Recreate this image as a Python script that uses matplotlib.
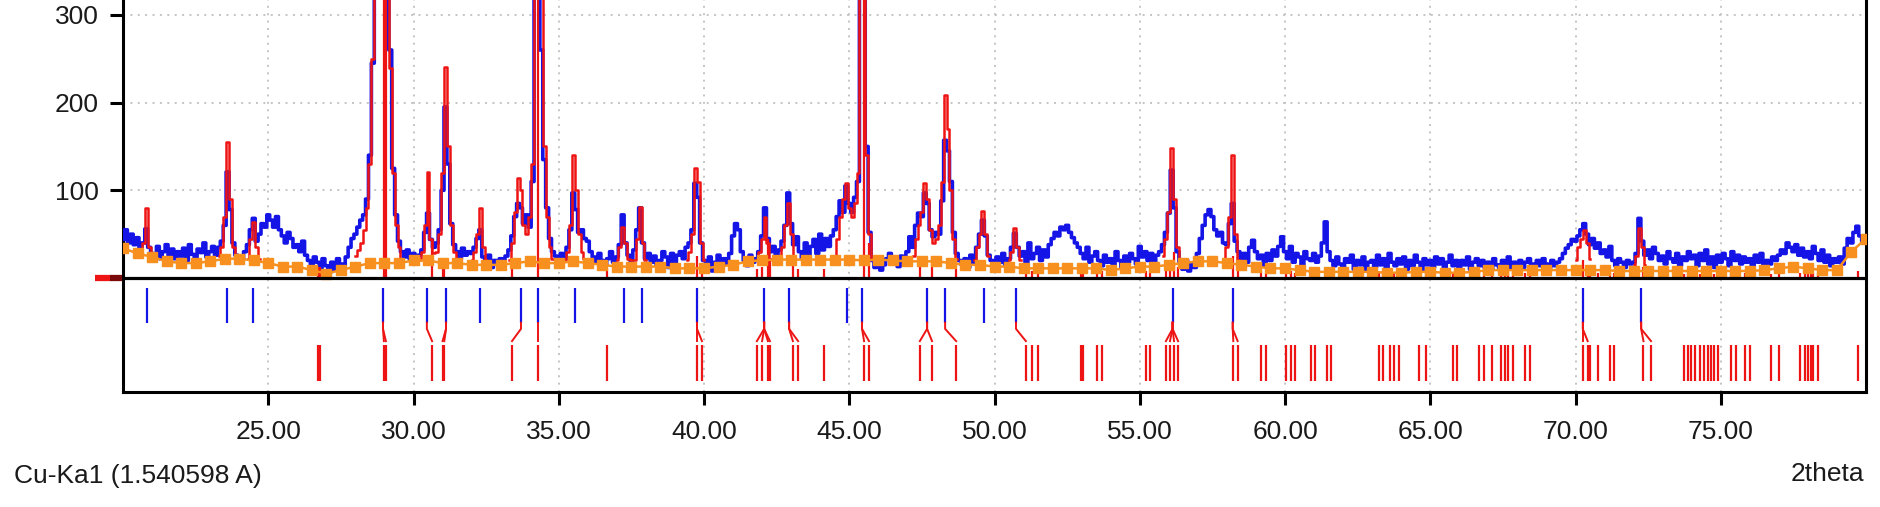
import numpy as np
import matplotlib.pyplot as plt
from matplotlib.transforms import blended_transform_factory

plt.rcParams['font.family'] = ['Liberation Sans', 'DejaVu Sans']

# measured scan, 2theta 20.0 -> 80.0 in 0.1 deg steps (counts)
scan_start = 20.0
scan_step = 0.1
obs = [
    44, 55, 40, 50, 38, 46, 33, 40, 56, 35,         # 20
    28, 24, 36, 22, 30, 38, 26, 33, 22, 30,         # 21
    25, 34, 20, 38, 27, 18, 33, 29, 40, 24,         # 22
    30, 36, 26, 35, 42, 60, 121, 78, 40, 26,        # 23
    24, 21, 30, 38, 55, 68, 42, 50, 62, 58,         # 24
    72, 66, 58, 70, 55, 48, 40, 52, 45, 35,         # 25
    38, 30, 42, 26, 20, 14, 24, 18, 10, 22,         # 26
    14, 6, 18, 10, 22, 16, 12, 24, 35, 45,          # 27
    50, 58, 66, 72, 90, 140, 245, 340, 340, 340,    # 28
    340, 340, 260, 125, 72, 42, 30, 24, 32, 22,     # 29
    28, 20, 26, 32, 52, 74, 44, 35, 40, 55,         # 30
    100, 195, 130, 62, 38, 30, 22, 34, 26, 30,      # 31
    28, 35, 45, 55, 24, 18, 26, 12, 20, 16,         # 32
    22, 15, 25, 32, 48, 70, 85, 80, 62, 72,         # 33
    58, 110, 320, 340, 260, 135, 80, 45, 30, 25,    # 34
    20, 28, 22, 35, 55, 97, 78, 52, 55, 45,         # 35
    42, 30, 24, 18, 28, 20, 15, 22, 30, 18,         # 36
    24, 38, 72, 40, 26, 20, 32, 55, 80, 40,         # 37
    22, 28, 18, 25, 14, 20, 30, 24, 12, 28,         # 38
    18, 26, 30, 22, 35, 40, 55, 108, 92, 40,        # 39
    20, 12, 24, 8, 18, 26, 14, 22, 16, 28,          # 40
    48, 62, 55, 30, 20, 14, 26, 18, 22, 30,         # 41
    48, 80, 45, 30, 36, 24, 32, 42, 60, 97,         # 42
    62, 38, 47, 30, 22, 40, 25, 36, 44, 28,         # 43
    50, 32, 45, 36, 48, 55, 70, 88, 75, 105,        # 44
    85, 75, 92, 110, 340, 330, 150, 52, 20, 12,     # 45
    18, 9, 15, 22, 28, 16, 20, 13, 25, 18,          # 46
    30, 47, 35, 60, 74, 70, 97, 85, 55, 47,         # 47
    52, 50, 88, 157, 145, 110, 52, 28, 20, 15,      # 48
    22, 12, 26, 18, 35, 50, 66, 48, 26, 20,         # 49
    15, 24, 18, 28, 14, 22, 35, 51, 35, 25,         # 50
    30, 18, 40, 22, 28, 35, 20, 32, 24, 38,         # 51
    45, 52, 48, 58, 55, 60, 52, 46, 40, 35,         # 52
    28, 22, 35, 18, 25, 30, 20, 14, 26, 18,         # 53
    22, 14, 30, 20, 12, 25, 18, 28, 22, 16,         # 54
    36, 24, 30, 20, 28, 18, 26, 30, 38, 52,         # 55
    74, 123, 80, 30, 18, 10, 20, 8, 16, 12,         # 56
    28, 45, 60, 72, 78, 70, 55, 48, 52, 40,         # 57
    38, 62, 85, 42, 30, 22, 28, 18, 35, 43,         # 58
    30, 22, 26, 14, 28, 20, 32, 25, 36, 47,         # 59
    30, 22, 36, 18, 28, 24, 15, 30, 22, 20,         # 60
    28, 18, 25, 40, 64, 30, 20, 14, 24, 16,         # 61
    12, 22, 18, 26, 10, 20, 15, 24, 8, 18,          # 62
    20, 12, 26, 15, 22, 10, 28, 18, 14, 22,         # 63
    16, 24, 10, 20, 14, 26, 18, 8, 22, 15,          # 64
    20, 12, 24, 16, 22, 10, 18, 26, 14, 20,         # 65
    12, 20, 15, 24, 10, 18, 22, 14, 20, 12,         # 66
    18, 10, 22, 15, 12, 20, 16, 24, 10, 18,         # 67
    14, 20, 12, 18, 22, 10, 16, 20, 14, 22,         # 68
    16, 12, 20, 14, 18, 22, 28, 34, 38, 44,         # 69
    42, 48, 55, 62, 50, 38, 45, 34, 40, 28,         # 70
    32, 24, 36, 20, 14, 22, 18, 12, 20, 16,         # 71
    18, 28, 68, 42, 26, 32, 22, 35, 28, 20,         # 72
    25, 16, 30, 22, 18, 28, 14, 24, 20, 30,         # 73
    22, 26, 14, 28, 20, 32, 16, 24, 12, 26,         # 74
    18, 28, 22, 14, 30, 20, 26, 16, 24, 18,         # 75
    22, 14, 26, 18, 28, 12, 20, 16, 24, 20,         # 76
    26, 32, 28, 40, 35, 30, 38, 26, 34, 24,         # 77
    30, 22, 36, 28, 20, 32, 18, 26, 14, 22,         # 78
    18, 24, 16, 34, 45, 40, 52, 59, 48, 42,         # 79
    40,                                             # 80
]

# background anchor points every 0.5 deg
bg_step = 0.5
bg = [
    34, 28, 24, 19, 17, 17, 19, 22, 22, 20,   # 20.0 - 24.5
    17, 13, 13, 9, 5, 9, 13, 17, 17, 17,      # 25.0 - 29.5
    20, 20, 17, 17, 15, 15, 15, 17, 19, 17,   # 30.0 - 34.5
    17, 19, 17, 15, 13, 13, 13, 13, 11, 11,   # 35.0 - 39.5
    11, 13, 15, 19, 20, 21, 21, 21, 21, 21,   # 40.0 - 44.5
    21, 20, 21, 20, 19, 19, 19, 17, 15, 15,   # 45.0 - 49.5
    13, 13, 11, 11, 11, 11, 11, 11, 9, 11,    # 50.0 - 54.5
    13, 13, 15, 17, 19, 19, 17, 15, 13, 11,   # 55.0 - 59.5
    11, 9, 7, 7, 7, 7, 7, 6, 6, 7,            # 60.0 - 64.5
    7, 6, 6, 7, 9, 9, 9, 9, 9, 9,             # 65.0 - 69.5
    9, 9, 9, 8, 8, 8, 8, 8, 8, 8,             # 70.0 - 74.5
    8, 8, 8, 9, 11, 13, 11, 9, 9, 30,         # 75.0 - 79.5
    45,                                       # 80.0
]

# calculated profile around the fitted peaks: (first angle, counts at 0.1 deg)
calc_segments = [
    (20.6, [30, 40, 80, 35, 25]),
    (23.3, [25, 35, 70, 155, 90, 35, 22]),
    (24.3, [22, 45, 64, 35, 22]),
    (28.0, [25, 32, 40, 55, 80, 130, 250, 340, 340, 340, 340, 340, 240, 120, 60, 35, 22]),
    (30.2, [20, 30, 60, 121, 45, 28, 30, 50, 120, 241, 150, 60, 30, 20]),
    (32.0, [20, 30, 50, 80, 35, 20]),
    (33.3, [20, 40, 75, 114, 100, 60, 50, 70, 130, 340, 340, 340, 150, 70, 35, 22]),
    (35.2, [20, 30, 60, 140, 100, 50, 30, 22]),
    (37.0, [20, 35, 58, 40, 22, 20, 20, 45, 81, 40, 20]),
    (39.4, [20, 30, 50, 125, 110, 40, 20]),
    (41.8, [20, 30, 45, 70, 40, 22, 20, 20, 20, 35, 60, 85, 50, 25]),
    (44.5, [25, 45, 70, 90, 108, 80, 70, 85, 120, 340, 340, 140, 50, 22]),
    (47.2, [25, 45, 60, 75, 108, 90, 55, 40, 45, 60, 110, 209, 170, 100, 45, 22]),
    (49.3, [20, 35, 50, 76, 50, 25]),
    (50.5, [20, 30, 57, 35, 20]),
    (55.8, [25, 45, 75, 148, 90, 35, 18]),
    (57.9, [22, 35, 70, 140, 50, 20]),
    (70.0, [20, 35, 45, 55, 40, 22]),
    (72.0, [15, 25, 57, 35, 15]),
]

# identified peak positions (blue ticks)
peaks = [20.83, 23.58, 24.48, 28.95, 30.46, 31.12, 32.29, 33.70, 34.29, 35.56,
         37.25, 37.87, 39.76, 42.07, 42.93, 44.92, 45.44, 47.68, 48.30, 49.64,
         50.74, 56.13, 58.20, 70.25, 72.26]

# reference pattern lines: (2theta, stick height in counts)
ref_lines = [
    (26.72, 12), (26.78, 12), (28.98, 340), (29.05, 340), (30.64, 45), (31.00, 15),
    (31.06, 15), (33.39, 20), (34.29, 340), (36.66, 10), (39.76, 25), (39.93, 15),
    (41.82, 10), (42.00, 12), (42.20, 45), (42.27, 20), (43.06, 25), (43.24, 10),
    (44.13, 10), (45.51, 340), (45.68, 40), (47.43, 20), (47.85, 25), (48.68, 10),
    (51.08, 12), (51.29, 8), (51.50, 10), (52.98, 8), (53.04, 8), (53.54, 10),
    (53.71, 8), (55.21, 8), (55.37, 6), (55.90, 10), (56.04, 15), (56.18, 30),
    (56.32, 12), (58.22, 25), (58.37, 10), (59.19, 8), (59.36, 6), (60.05, 10),
    (60.19, 8), (60.33, 6), (60.88, 8), (61.03, 10), (61.45, 6), (61.60, 8),
    (63.22, 6), (63.37, 6), (63.62, 6), (63.76, 6), (63.93, 6), (64.62, 8),
    (64.85, 8), (65.79, 6), (65.93, 6), (66.69, 7), (66.85, 7), (67.11, 7),
    (67.44, 7), (67.58, 7), (67.69, 7), (67.86, 7), (68.26, 6), (68.43, 6),
    (70.25, 20), (70.42, 12), (70.50, 8), (70.79, 6), (71.19, 6), (71.34, 6),
    (72.34, 12), (72.60, 8), (73.73, 5), (73.88, 5), (73.96, 5), (74.11, 5),
    (74.28, 5), (74.42, 5), (74.57, 5), (74.68, 5), (74.76, 5), (74.91, 5),
    (75.34, 6), (75.51, 6), (75.84, 6), (76.01, 6), (76.72, 5), (77.00, 5),
    (77.73, 6), (77.90, 6), (78.00, 6), (78.10, 6), (78.19, 6), (78.36, 6),
    (79.74, 8),
]

# peak -> matched reference lines
matches = [
    (28.95, [28.98, 29.05]), (30.46, [30.64]), (31.12, [31.00, 31.06]),
    (33.70, [33.39]), (34.29, [34.29]), (39.76, [39.76, 39.93]),
    (42.07, [41.82, 42.00, 42.20, 42.27]), (42.93, [43.06, 43.24]),
    (45.44, [45.51, 45.68]), (47.68, [47.43, 47.85]), (48.30, [48.68]),
    (50.74, [51.08]), (56.13, [55.90, 56.04, 56.18, 56.32]),
    (58.20, [58.22, 58.37]), (70.25, [70.25, 70.42]), (72.26, [72.34, 72.60]),
]

xticks = [25, 30, 35, 40, 45, 50, 55, 60, 65, 70, 75]
yticks = [100, 200, 300]

BLUE = '#1414e6'
RED = '#ee1414'
ORANGE = '#f7901e'
TXT = '#1a1a1a'

x_obs = scan_start + scan_step * np.arange(len(obs))
x_bg = scan_start + bg_step * np.arange(len(bg))
ref_pos = [r[0] for r in ref_lines]
ref_int = [r[1] for r in ref_lines]

fig = plt.figure(figsize=(18.8, 5.07), dpi=100)
ax = fig.add_axes([123 / 1880, 1 - 392 / 507, (1866 - 123) / 1880, 392 / 507])

# pattern area
ax.plot(x_obs, obs, color=BLUE, lw=2.6, drawstyle='steps-mid', zorder=3)
for x0, vals in calc_segments:
    xs = x0 + scan_step * np.arange(len(vals))
    ax.plot(xs, vals, color=RED, lw=1.8, drawstyle='steps-mid', zorder=4)
ax.vlines(ref_pos, 0, ref_int, color=RED, lw=1.6, zorder=4)
ax.plot(x_bg, bg, color=ORANGE, lw=1.8, marker='s', ms=7.5, mec=ORANGE, zorder=6)
ax.axhline(0, color='black', lw=2.3, zorder=7)

# stick rows under the pattern
ax.vlines(peaks, -51, -11, color=BLUE, lw=1.6, zorder=4)
for p, rs in matches:
    for r in rs:
        ax.plot([p, p, r], [-51, -58, -72], color=RED, lw=1.4, zorder=4)
ax.vlines(ref_pos, -118, -76, color=RED, lw=1.6, zorder=4)

# offset marker left of the axis
trans = blended_transform_factory(ax.transAxes, ax.transData)
ax.plot([-0.0161, -0.0075], [0, 0], color=RED, lw=4.5, transform=trans,
        clip_on=False, solid_capstyle='butt')
ax.plot([-0.0075, 0], [0, 0], color='#7a0a0a', lw=4.5, transform=trans,
        clip_on=False, solid_capstyle='butt')

ax.set_xlim(20, 80)
ax.set_ylim(-130, 317)
ax.set_xticks(xticks)
ax.set_xticklabels([f'{v:.2f}' for v in xticks])
ax.set_yticks(yticks)
ax.tick_params(axis='both', direction='out', length=9.5, width=2.2,
               labelsize=19, labelcolor=TXT, color='black')
ax.tick_params(axis='x', pad=11)
ax.tick_params(axis='y', pad=8)
ax.grid(True, color='#c4c4c4', linestyle=(0, (1, 2.8)), lw=1.4, zorder=0)
ax.set_axisbelow(True)

ax.spines['top'].set_visible(False)
for s in ['left', 'right', 'bottom']:
    ax.spines[s].set_linewidth(2.2)
    ax.spines[s].set_color('black')

fig.text(14 / 1880, 1 - 476 / 507, 'Cu-Ka1 (1.540598 A)', fontsize=19,
         ha='left', va='center', color=TXT)
fig.text(1864 / 1880, 1 - 474 / 507, '2theta', fontsize=19,
         ha='right', va='center', color=TXT)

fig.savefig('out.png', dpi=100)
